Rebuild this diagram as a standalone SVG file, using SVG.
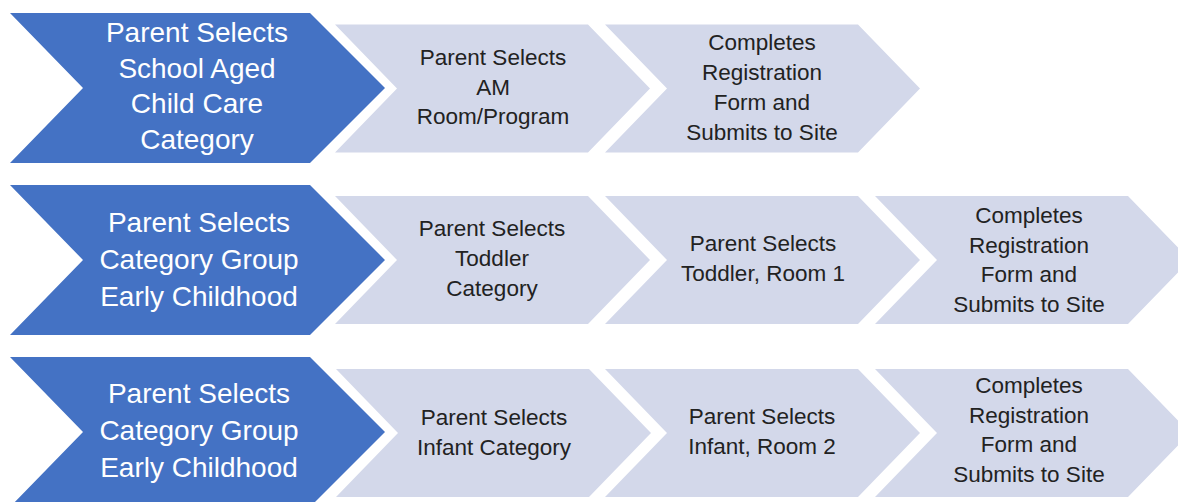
<svg xmlns="http://www.w3.org/2000/svg" xmlns:xlink="http://www.w3.org/1999/xlink" width="1178" height="502" viewBox="0 0 1178 502">
  <defs>
    <polygon id="blueChev" points="0,-75 300,-75 375,0 300,75 0,75 73,0"/>
    <polygon id="lightChev" points="0,-64 253,-64 315,0 253,64 0,64 62,0"/>
    <style>
      .blue { fill: #4472C4; }
      .light { fill: #D3D8EA; }
      .bt { font-family: "Liberation Sans", Arial, sans-serif; font-size: 28px; fill: #FFFFFF; text-anchor: middle; }
      .lt { font-family: "Liberation Sans", Arial, sans-serif; font-size: 22.5px; fill: #222222; text-anchor: middle; }
    </style>
  </defs>
  <rect width="1178" height="502" fill="#FFFFFF"/>

  <!-- Row 1 -->
  <g id="r1-start">
    <use xlink:href="#blueChev" href="#blueChev" class="blue" transform="translate(10,88)"/>
    <text class="bt" x="197" y="42">Parent Selects</text>
    <text class="bt" x="197" y="77.5">School Aged</text>
    <text class="bt" x="197" y="113">Child Care</text>
    <text class="bt" x="197" y="148.5">Category</text>
  </g>
  <g id="r1-step1">
    <use xlink:href="#lightChev" href="#lightChev" class="light" transform="translate(335,88.5)"/>
    <text class="lt" x="493" y="65">Parent Selects</text>
    <text class="lt" x="493" y="95">AM</text>
    <text class="lt" x="493" y="124">Room/Program</text>
  </g>
  <g id="r1-step2">
    <use xlink:href="#lightChev" href="#lightChev" class="light" transform="translate(605,88.5)"/>
    <text class="lt" x="762" y="50">Completes</text>
    <text class="lt" x="762" y="80">Registration</text>
    <text class="lt" x="762" y="110">Form and</text>
    <text class="lt" x="762" y="140">Submits to Site</text>
  </g>

  <!-- Row 2 -->
  <g id="r2-start">
    <use xlink:href="#blueChev" href="#blueChev" class="blue" transform="translate(10,260)"/>
    <text class="bt" x="199" y="232">Parent Selects</text>
    <text class="bt" x="199" y="269">Category Group</text>
    <text class="bt" x="199" y="306">Early Childhood</text>
  </g>
  <g id="r2-step1">
    <use xlink:href="#lightChev" href="#lightChev" class="light" transform="translate(335,260)"/>
    <text class="lt" x="492" y="236">Parent Selects</text>
    <text class="lt" x="492" y="266">Toddler</text>
    <text class="lt" x="492" y="296">Category</text>
  </g>
  <g id="r2-step2">
    <use xlink:href="#lightChev" href="#lightChev" class="light" transform="translate(605,260)"/>
    <text class="lt" x="763" y="251">Parent Selects</text>
    <text class="lt" x="763" y="281">Toddler, Room 1</text>
  </g>
  <g id="r2-step3">
    <use xlink:href="#lightChev" href="#lightChev" class="light" transform="translate(875,260)"/>
    <text class="lt" x="1029" y="223">Completes</text>
    <text class="lt" x="1029" y="253">Registration</text>
    <text class="lt" x="1029" y="282">Form and</text>
    <text class="lt" x="1029" y="312">Submits to Site</text>
  </g>

  <!-- Row 3 -->
  <g id="r3-start">
    <use xlink:href="#blueChev" href="#blueChev" class="blue" transform="translate(10,432)"/>
    <text class="bt" x="199" y="403">Parent Selects</text>
    <text class="bt" x="199" y="440">Category Group</text>
    <text class="bt" x="199" y="477">Early Childhood</text>
  </g>
  <g id="r3-step1">
    <use xlink:href="#lightChev" href="#lightChev" class="light" transform="translate(336,433)"/>
    <text class="lt" x="494" y="425">Parent Selects</text>
    <text class="lt" x="494" y="455">Infant Category</text>
  </g>
  <g id="r3-step2">
    <use xlink:href="#lightChev" href="#lightChev" class="light" transform="translate(605,433)"/>
    <text class="lt" x="762" y="424">Parent Selects</text>
    <text class="lt" x="762" y="454">Infant, Room 2</text>
  </g>
  <g id="r3-step3">
    <use xlink:href="#lightChev" href="#lightChev" class="light" transform="translate(875,433)"/>
    <text class="lt" x="1029" y="393">Completes</text>
    <text class="lt" x="1029" y="423">Registration</text>
    <text class="lt" x="1029" y="452">Form and</text>
    <text class="lt" x="1029" y="482">Submits to Site</text>
  </g>

  <g id="connectors"/>
</svg>
